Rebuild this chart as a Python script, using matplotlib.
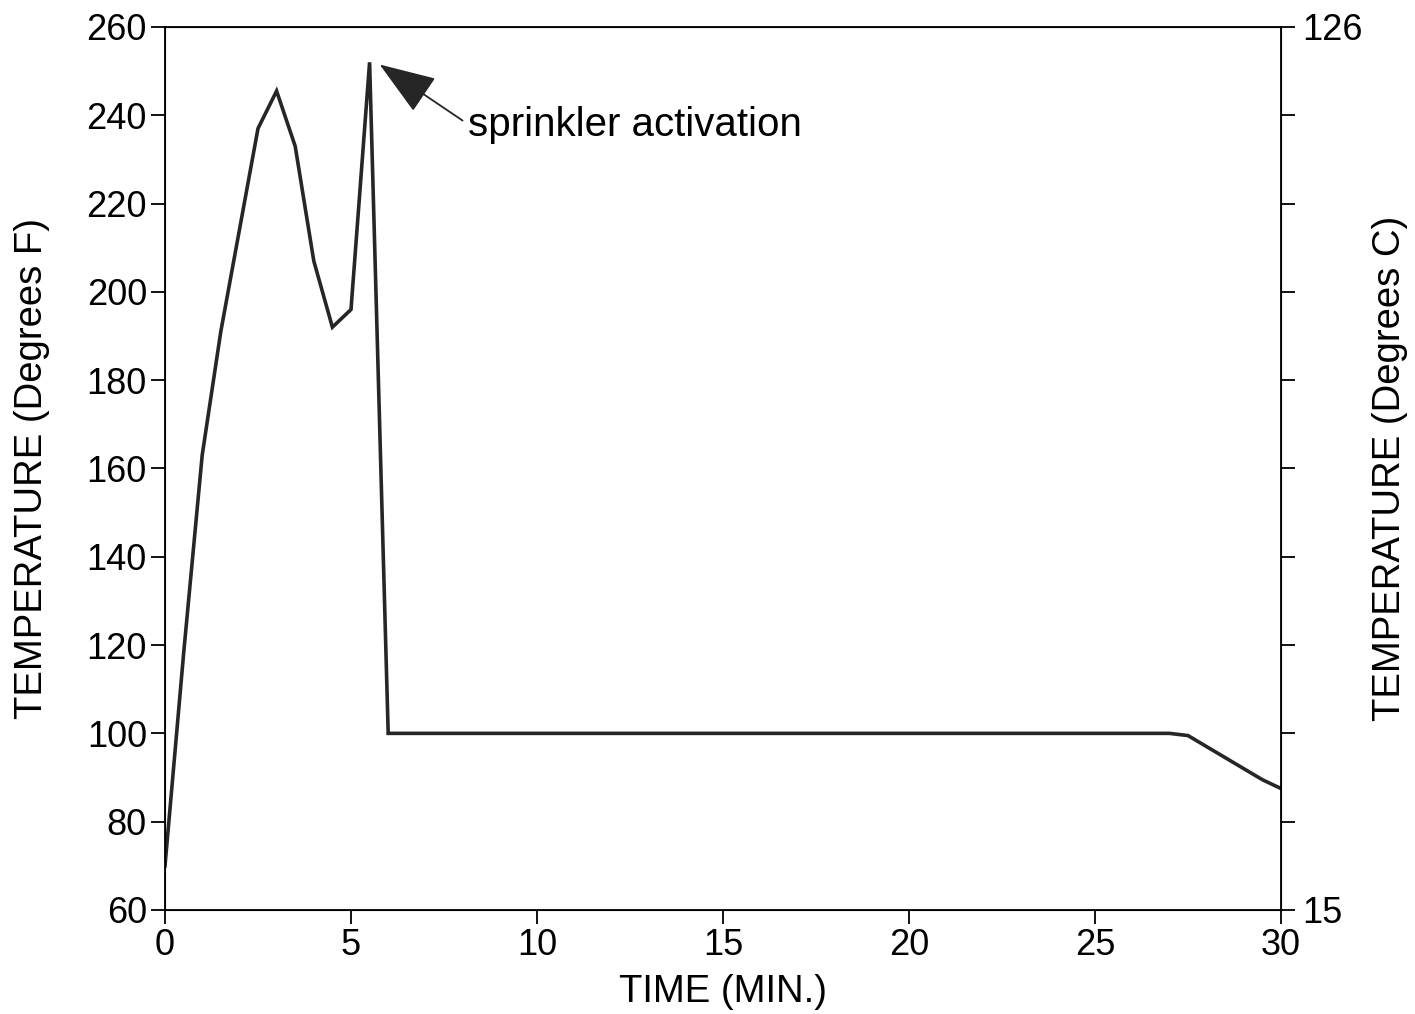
import matplotlib
matplotlib.use("Agg")
import matplotlib.pyplot as plt

plt.rcParams["font.family"] = ["Liberation Sans", "DejaVu Sans"]

INK = "#262626"

# data
time_min = [0, 0.5, 1, 1.5, 2, 2.5, 3, 3.5, 4, 4.5, 5, 5.5, 6,
            27.0, 27.5, 28, 28.5, 29, 29.5, 30]
temp_f = [70, 118, 163, 191, 214, 237, 245.5, 233, 207, 192, 196, 252, 100,
          100, 99.5, 97, 94.5, 92, 89.5, 87.5]

x_ticks = [0, 5, 10, 15, 20, 25, 30]
f_ticks = [60, 80, 100, 120, 140, 160, 180, 200, 220, 240, 260]
c_labels = ["15", "", "", "", "", "", "", "", "", "", "126"]

fig = plt.figure(figsize=(14.15, 10.14), dpi=100)
ax = fig.add_axes([0.1166, 0.1026, 0.7887, 0.8708])

ax.plot(time_min, temp_f, color=INK, lw=2.6, solid_joinstyle="miter")

ax.set_xlim(0, 30)
ax.set_ylim(60, 260)
ax.set_xticks(x_ticks)
ax.set_yticks(f_ticks)
ax.tick_params(direction="out", length=10, width=1.3, labelsize=26,
               colors="black", pad=3)
ax.set_xlabel("TIME (MIN.)", fontsize=27.5, labelpad=8)
ax.set_ylabel("TEMPERATURE (Degrees F)", fontsize=27.5, labelpad=26)
for s in ax.spines.values():
    s.set_linewidth(1.3)

# right axis: same tick positions, only the end values labelled in Celsius
ax2 = ax.twinx()
ax2.set_ylim(ax.get_ylim())
ax2.set_yticks(f_ticks)
ax2.set_yticklabels(c_labels)
ax2.tick_params(direction="out", length=10, width=1.3, labelsize=26, pad=5)
ax2.set_ylabel("TEMPERATURE (Degrees C)", fontsize=27.5, labelpad=7)

ax.annotate("", xy=(5.77, 251.5), xytext=(8.0, 238.8),
            arrowprops=dict(arrowstyle="-|>,head_length=1.8,head_width=0.65",
                            mutation_scale=20, color=INK, lw=1.3,
                            shrinkA=0, shrinkB=0))
ax.text(8.15, 237.8, "sprinkler activation", fontsize=29, color="black",
        va="center", ha="left")

fig.savefig("out.png", dpi=100, facecolor="white")
